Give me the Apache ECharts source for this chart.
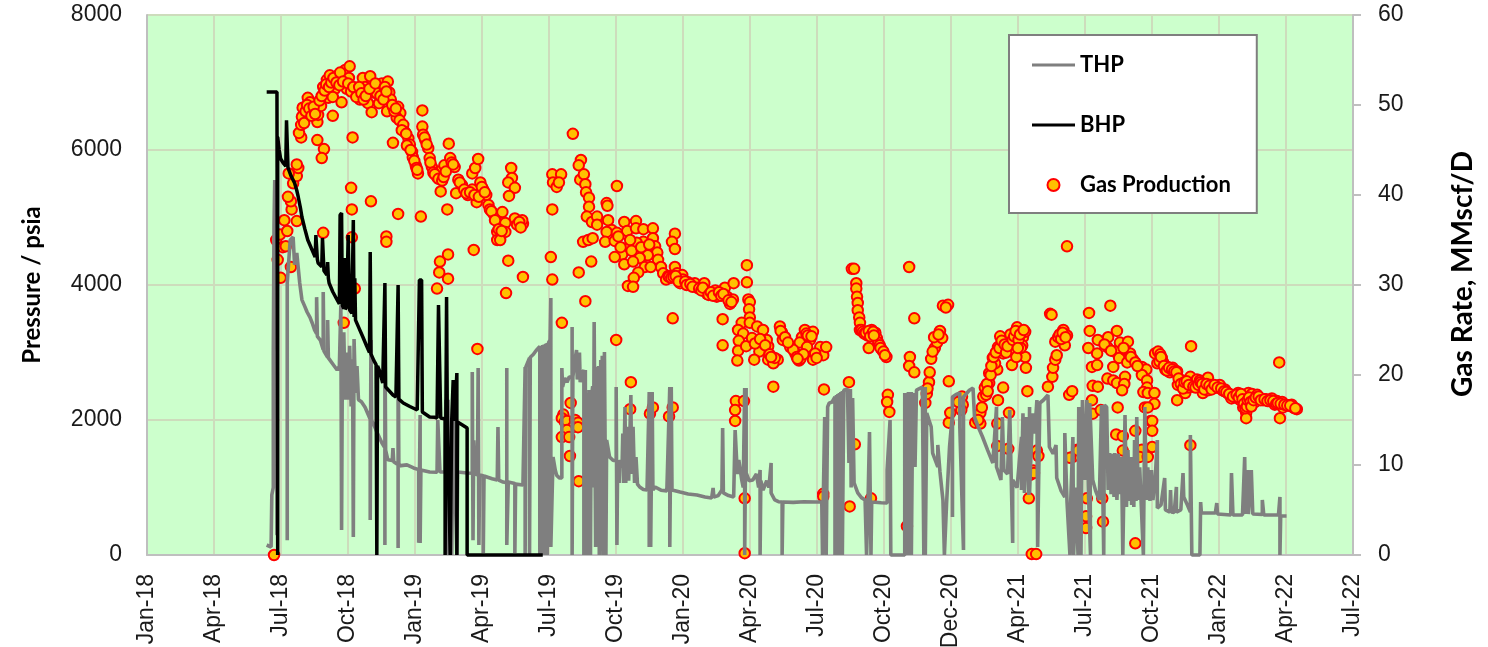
<!DOCTYPE html>
<html><head><meta charset="utf-8">
<style>html,body{margin:0;padding:0;background:#fff}#c{width:1488px;height:647px}</style>
<script src="https://cdn.jsdelivr.net/npm/echarts@6/dist/echarts.min.js"></script>
</head><body><div id="c"></div>
<script>
const tickLabels=["Jan-18","Apr-18","Jul-18","Oct-18","Jan-19","Apr-19","Jul-19","Oct-19","Jan-20","Apr-20","Jul-20","Oct-20","Dec-20","Apr-21","Jul-21","Oct-21","Jan-22","Apr-22","Jul-22"];
const quarterDays=91.25;
const thpEarly=[[163,148],[169,118],[170,890],[172,1000],[172,3000],[173,4890],[174,5555],[176,5555],[177,3000],[177,300],[178,300],[179,null],[191,220],[191,4030],[193,4030],[195,4665],[199,4710],[201,4300],[204,4475],[208,4030],[211,3780],[215,3680],[218,3600],[222,3520],[225,3437],[228,3340],[231,3280],[231,3820],[232,3240],[236,3185],[240,3040],[240,3895],[241,3020],[246,2930],[246,3480],[247,2920],[253,2830],[259,2740],[262,2800],[264,3700],[265,370],[266,2700],[268,3300],[270,2300],[272,3000],[274,2300],[276,3100],[278,2200],[280,2900],[281,265],[282,3200],[284,2400],[286,2800],[288,2300],[292,2270],[297,2190],[304,2010],[304,520],[305,3185],[306,1990],[308,1955],[314,1800],[320,1660],[324,1590],[324,148],[324,3330],[325,1555],[328,1410],[334,1400],[335,1585],[336,1380],[342,1335],[342,105],[342,3185],[343,1320],[354,1335],[363,1290],[370,1265],[370,180],[372,2075],[372,178],[373,1260],[385,1230],[395,1225],[396,2000],[398,2000],[399,1230],[403,1230],[406,1230],[407,2300],[408,0],[410,2300],[411,0],[412,1600],[414,1230],[415,0],[417,2000],[419,1260],[422,0],[423,1230],[436,1215],[443,1210],[443,2710],[444,220],[445,1700],[447,1200],[450,1190],[451,2770],[452,150],[453,1185],[458,1175],[458,30],[459,1170],[470,1130],[477,1110],[478,1896],[479,1110],[485,1080],[490,1070],[490,2770],[490,148],[492,1080],[501,1060],[501,30],[502,1050],[512,1037]];
const thpMid=[[515,2785],[515,0],[516,2785],[521,2920],[521,0],[522,2930],[526,2970],[530,3030],[535,3090],[535,0],[537,3100],[537,0],[539,3110],[539,0],[541,3120],[541,0],[543,3130],[543,0],[545,3140],[545,0],[547,3150],[549,3185],[550,3807],[550,118],[551,118],[553,1452],[556,1260],[558,1180],[562,1140],[565,1140],[565,2770],[566,2490],[569,2622],[572,2560],[575,2637],[579,2637],[579,3378],[579,0],[580,2640],[583,2900],[585,3037],[586,2600],[589,3000],[590,2560],[593,2700],[595,2740],[595,0],[597,2740],[597,0],[599,2400],[601,0],[602,2444],[604,0],[605,2300],[607,2500],[608,1000],[609,3452],[610,3452],[611,118],[613,2785],[614,400],[615,2800],[616,0],[618,2889],[619,200],[620,2950],[621,0],[623,3007],[625,3007],[625,0],[626,1704],[627,1704],[630,1452],[635,1400],[639,1407],[639,2489],[640,148],[641,1400],[643,1067],[644,1407],[647,1300],[648,1800],[649,1067],[651,2193],[652,1067],[655,1900],[656,1100],[659,2370],[660,1200],[662,1900],[664,1067],[666,1452],[668,1050],[671,1007],[676,970],[681,963],[684,2415],[684,118],[686,2415],[686,118],[688,2415],[689,963],[692,1007],[700,960],[708,950],[712,2489],[712,118],[714,2489],[715,963],[726,933],[737,905],[749,889],[760,860],[769,844],[771,993],[772,859],[778,880],[783,963],[784,1881],[785,919],[792,880],[799,859],[801,1852],[803,1852],[804,1200],[806,1407],[810,1111],[812,1000],[814,2474],[814,0],[816,2474],[816,1215],[820,1100],[825,1111],[830,1200],[833,1000],[835,1259],[835,0],[836,1100],[839,963],[844,1100],[847,1000],[850,1363],[850,919],[855,815],[860,790],[865,785],[865,0],[866,785],[880,780],[895,790],[910,785],[919,785],[920,0],[921,785],[923,2044],[925,0],[927,2193],[929,2250],[933,2267],[937,2341],[937,0],[939,2370],[939,0],[941,2385],[941,0],[943,2400],[943,0],[945,2415],[945,0],[947,2430],[947,0],[949,2440],[954,2459],[955,2459],[956,1363],[958,2459],[959,1000],[961,2326],[963,1067],[968,919],[973,850],[978,815],[980,0],[982,800],[984,1822],[986,0],[987,785],[1000,775],[1008,770],[1008,1259],[1012,2000],[1013,0],[1032,0],[1032,2400],[1033,0],[1035,2400],[1035,0],[1037,2415],[1037,0],[1039,2415],[1039,0],[1041,2415],[1041,0],[1043,2400],[1043,1304],[1045,2400],[1046,1304],[1048,2444],[1050,2460],[1056,2489],[1058,0],[1060,2489],[1060,0],[1062,2104],[1065,2000],[1068,1900],[1070,1896],[1070,1511],[1077,1304],[1077,1630],[1080,1230],[1084,815],[1086,0],[1089,770],[1093,1600],[1097,2100],[1097,563],[1097,2341],[1102,2380],[1107,2400],[1107,1896],[1112,74],[1112,2341],[1120,2440]];
const thpLate=[[1125,2474],[1127,2044],[1132,1900],[1138,1748],[1145,1550],[1152,1363],[1157,2193],[1157,1304],[1163,1111],[1165,2044],[1167,1259],[1172,1200],[1175,2148],[1179,178],[1179,1111],[1185,1000],[1191,1748],[1191,963],[1193,2100],[1195,919],[1198,2044],[1201,889],[1202,2193],[1202,919],[1206,2100],[1209,1800],[1212,2296],[1213,118],[1216,2252],[1221,2296],[1227,2370],[1229,1600],[1234,1500],[1238,1630],[1239,1141],[1245,950],[1250,859],[1250,1807],[1253,785],[1257,0],[1258,785],[1261,1748],[1262,0],[1265,1000],[1268,0],[1269,2193],[1272,0],[1274,2296],[1277,1111],[1280,2296],[1282,1000],[1285,0],[1284,2252],[1288,1111],[1292,950],[1297,815],[1300,2222],[1303,0],[1304,2222],[1307,2193],[1309,963],[1311,1511],[1313,900],[1315,1500],[1317,859],[1318,1511],[1321,815],[1323,1500],[1325,900],[1327,1452],[1328,815],[1329,0],[1332,2074],[1334,711],[1336,1556],[1338,800],[1340,1452],[1341,741],[1343,1400],[1344,711],[1345,1704],[1347,800],[1348,2044],[1350,815],[1352,1300],[1354,770],[1357,0],[1359,2193],[1361,815],[1363,1300],[1366,800],[1368,1259],[1370,815],[1373,1111],[1376,1704],[1376,696],[1381,741],[1386,1141],[1387,667],[1393,637],[1394,963],[1395,637],[1399,630],[1402,1007],[1402,637],[1408,667],[1411,1215],[1412,859],[1417,741],[1421,637],[1421,1778],[1423,0],[1434,0],[1435,785],[1436,622],[1455,622],[1457,770],[1458,607],[1476,593],[1477,1215],[1479,593],[1492,593],[1495,1452],[1496,607],[1499,1259],[1500,607],[1504,1259],[1506,607],[1519,600],[1519,815],[1521,593],[1541,593],[1543,859],[1543,0],[1544,578],[1552,578]];
const bhpValues=[[163,6860],[177,6860],[178,6860],[178,0],[178,6193],[180,6000],[182,5870],[186,5800],[189,5760],[190,6440],[191,6440],[192,5740],[196,5620],[201,5511],[204,5400],[206,5304],[209,5140],[211,5007],[215,4830],[219,4667],[224,4540],[229,4415],[230,4741],[231,4741],[232,4380],[233,4326],[238,4270],[239,4696],[240,4696],[241,4210],[245,4150],[246,4341],[247,4100],[248,4030],[253,3900],[259,3778],[262,3720],[263,5037],[265,5067],[266,3700],[268,3650],[269,4400],[270,3640],[272,3674],[274,4741],[276,3630],[279,3580],[281,4963],[282,3526],[283,4100],[284,3480],[288,3380],[294,3230],[299,3100],[303,3000],[304,4489],[305,2980],[309,2880],[312,2820],[313,0],[314,2800],[317,2720],[321,2548],[323,2520],[324,4030],[325,2489],[330,2430],[335,2370],[339,2340],[341,2320],[342,4000],[343,2310],[349,2252],[358,2200],[368,2148],[370,2130],[371,4074],[374,4074],[375,2119],[385,2044],[392,2040],[395,2030],[397,3704],[399,3700],[400,2030],[406,2015],[406,0],[407,2010],[408,3822],[409,2005],[411,2000],[413,0],[415,2000],[417,2593],[419,1985],[421,1980],[422,2696],[422,0],[423,1970],[429,1930],[436,1881],[436,0],[539,0]];
const gas2018=[[173,0],[178,32.8],[182,30.8],[176,35],[181,35.6],[185,34.2],[189,34.3],[191,36],[187,37.2],[196,32],[204,37.1],[197,38.4],[196,39.3],[192,39.8],[199,41.3],[204,42.1],[206,43],[204,43.4],[193,42.4],[210,46.4],[207,46.9],[210,47.8],[211,48.7],[212,49.7],[219,50.8],[222,50.3],[225,49.4],[232,48.1],[233,48.9],[237,49.9],[232,46.1],[241,45.1],[238,44.1],[240,35.8],[253,48.8],[240,52],[245,52.8],[249,53.3],[256,51.8],[247,50.8],[253,50.9],[260,53.3],[265,50.3],[272,51.8],[270,53.9],[276,54.3],[275,53],[280,46.4],[278,40.8],[279,38.4],[279,35.3],[283,29.6],[268,25.8],[283,51.7],[287,51.3],[290,50.6],[294,53],[297,52],[300,51.3],[301,50.2],[304,53.2],[306,49.2],[308,51.4],[305,39.3],[313,51.3],[316,50.2],[320,52.4],[328,52.6],[330,51.4],[327,49.3],[332,50.6],[335,49.8],[342,49.8],[345,49.1],[340,48.6],[326,35.4],[326,34.8],[335,45.8],[342,37.9],[214,48],[216,49.3],[218,50],[221,49.6],[224,48.8],[227,49.8],[229,49],[235,50.5],[238,51],[242,51.6],[244,52.3],[248,52],[251,52.5],[254,53],[258,52.5],[262,52.2],[263,53.6],[267,52.6],[274,52.4],[278,51.5],[281,52],[285,50.9],[289,52],[292,51.3],[295,50.6],[298,51],[303,51.8],[311,52.4],[318,51],[322,50.6],[324,52],[326,51.5],[334,50],[337,49.3],[339,49.6],[344,48.3]];
const gas2019a=[[349,47.8],[351,47],[356,46.3],[358,45.6],[361,44.8],[362,44.2],[366,43.3],[369,42.4],[373,37.6],[375,49.4],[375,47.6],[376,46.7],[379,46.1],[383,45.2],[385,44.1],[388,43.1],[395,42],[400,40.4],[399,42.6],[405,43.3],[411,45.7],[413,44.1],[419,43.1],[409,38.4],[410,33.4],[399,32.6],[398,31.4],[410,30.7],[395,29.6],[421,40.2],[424,41.7],[429,41.1],[437,40],[443,40.6],[449,39.2],[454,41.4],[458,40.6],[462,40],[465,38.9],[443,42.4],[447,43],[451,44],[445,33.9],[450,22.9],[471,38],[477,35.9],[477,35],[481,37],[496,43],[497,41.9],[492,41.4],[501,40.8],[493,39.9],[501,37.4],[512,36.8],[504,36.7],[511,37.2],[484,38.1],[488,36.9],[488,35.9],[481,35],[492,32.7],[512,30.9],[489,29.1],[347,47.2],[353,46.8],[354,45.5],[359,45],[364,43.8],[367,43],[368,42.8],[378,46.4],[381,45.6],[386,43.6],[390,42.5],[392,42.3],[397,41.8],[402,41.6],[404,42],[407,42.6],[415,43.6],[417,43.4],[426,41.4],[432,40.6],[435,40.2],[440,40.3],[446,40],[452,39.8],[456,40.9],[460,40.3],[467,38.4],[469,38.2],[474,37.2],[479,36.2],[483,36],[507,37],[509,36.4]];
const gas2019b=[[552,42.3],[553,41.4],[558,40.9],[564,42.3],[561,41.4],[552,38.4],[550,33.1],[552,30.6],[565,25.8],[580,46.8],[591,43.9],[588,43.3],[590,41.7],[595,42.3],[597,41.2],[598,40.3],[602,39.7],[602,38.7],[599,37.6],[606,37],[613,37.6],[613,36.7],[594,34.8],[601,35],[607,35.2],[605,32.6],[588,31.4],[597,28.2],[626,39.1],[627,38.8],[640,41],[628,37.2],[633,36.1],[626,35.9],[624,34.8],[640,35.8],[637,34.9],[650,37],[654,36],[666,37.1],[666,36.3],[676,36.2],[689,36.3],[689,35.2],[692,34.3],[695,33.6],[696,32.8],[700,32],[703,31.3],[707,30.6],[656,34.2],[647,33.4],[637,33.1],[650,32.3],[676,34.8],[667,34.7],[676,33.9],[682,33.3],[671,33],[662,32.6],[678,32],[686,32],[669,31.4],[663,30.8],[655,29.9],[662,29.8],[719,35.7],[715,34.8],[719,34],[719,32],[710,31],[722,31.3],[729,31.1],[730,30.6],[726,30.2],[737,30.3],[746,30.2],[749,29.7],[759,30.2],[760,29.4],[763,29],[774,29.4],[776,28.7],[787,29.7],[790,28.7],[794,27.9],[798,28.4],[799,30.2],[716,26.3],[639,23.9],[659,19.2],[577,16.9],[567,15.6],[565,15.2],[569,14.8],[572,14.9],[583,15],[587,14.7],[580,14.2],[587,14.2],[572,13.9],[565,13.1],[575,13.1],[576,11],[588,8.2],[612,14.8],[658,16.2],[685,15.7],[689,16.4],[711,15.4],[716,16.4],[711,30.9],[714,30.8],[717,30.9],[720,31],[724,30.4],[733,30.4],[735,30],[740,30.1],[743,29.8],[752,29.6],[755,29.4],[757,29.7],[765,28.9],[768,29.2],[771,28.8],[779,29.2],[782,28.8],[785,29],[792,28.3],[796,28.1],[642,35.4],[645,34.2],[658,35],[660,33.8],[673,34.2],[684,34.5]];
const gas2020=[[817,32.2],[817,30.3],[819,28.4],[821,28.1],[820,27.3],[821,26.4],[784,26.2],[784,23.3],[802,17.1],[813,17.1],[801,16.1],[801,14.9],[814,6.3],[814,0.2],[853,18.7],[922,18.4],[921,6.8],[921,6.5],[810,25.8],[805,25],[812,24.6],[806,23.8],[805,22.7],[804,21.6],[816,23.2],[824,24.1],[821,25.8],[831,25.4],[839,25],[834,22.6],[827,21.7],[846,23.2],[844,23.9],[846,21.7],[859,21.7],[853,21.3],[862,25.4],[865,24.7],[866,23.9],[876,23.1],[883,22.4],[888,21.6],[896,25],[892,24.2],[889,23.6],[907,24.8],[903,23.9],[907,21.7],[899,23.1],[917,23.1],[921,22.2],[925,23.1],[960,31.8],[963,31.8],[966,30.2],[966,29.6],[967,28.7],[968,28],[968,27.2],[970,26.4],[971,25.8],[971,25],[981,24.4],[987,25],[992,24.7],[994,24.1],[996,23.6],[1001,22.8],[1007,22],[983,23],[956,19.2],[964,12.3],[957,5.4],[986,6.3],[1009,17.8],[1008,17],[1011,15.9],[1038,32],[1045,26.3],[1039,22],[1038,21],[1045,20.3],[1035,3.2],[1060,16.9],[1062,17.9],[1065,19.2],[1066,20.3],[1068,21.8],[1073,23],[1076,23.6],[1080,24.9],[1072,24.2],[1083,24.1],[1084,27.7],[1091,27.8],[1092,19.3],[1092,14.7],[1094,15.8],[973,25],[975,24.8],[977,24.6],[979,24.7],[983,24.9],[985,24.3],[989,24.8],[990,24.4],[998,23.3],[999,23],[1003,22.6],[1005,22.2],[880,22.8],[885,22],[890,21.8],[894,22.3],[898,24.6],[900,24.4],[905,24.3],[910,22.4],[912,21.9],[886,21.8],[828,23.5],[835,24],[842,23.3],[848,22.3],[855,21.9],[850,22],[863,24.9],[869,24.2],[873,23.6],[1070,22.6],[1078,24.5],[1063,18.5],[1088,27.5]];
const gas2021a=[[1110,17.6],[1111,16.7],[1109,16.1],[1105,17],[1128,14.7],[1135,14.6],[1135,15.8],[1137,16.4],[1139,17.6],[1141,18.6],[1147,19.1],[1147,20.2],[1152,21.9],[1158,20.6],[1155,21.3],[1162,24.3],[1159,23.1],[1166,22.4],[1178,21.1],[1175,23.7],[1185,25.3],[1182,22.8],[1193,24.2],[1192,23.3],[1196,22],[1197,20.8],[1196,24.8],[1166,18.6],[1159,17.2],[1174,15.8],[1158,14.6],[1158,12.1],[1173,11.8],[1199,18.2],[1212,11.6],[1214,11],[1199,9.3],[1207,9.4],[1203,8.9],[1208,9.1],[1201,6.3],[1205,0.1],[1211,0.1],[1227,18.7],[1233,19.8],[1234,20.8],[1237,21.7],[1239,22.2],[1250,23.3],[1237,23.7],[1241,24.2],[1248,25],[1253,24.4],[1230,26.8],[1253,34.3],[1256,17.8],[1260,18.2],[1261,10.9],[1267,11.7],[1257,10.8],[1268,11.6],[1278,11.6],[1144,19],[1149,20],[1150,21],[1153,22],[1156,22.5],[1161,23],[1164,23.8],[1168,23.4],[1170,22.5],[1172,23.2],[1176,24.5],[1179,23.9],[1181,24.3],[1183,24.9],[1187,23.9],[1189,24.5],[1190,23],[1194,25],[1184,22],[1186,23],[1243,24.5],[1245,24],[1247,24.7],[1251,24.2],[1132,15],[1143,17.8],[1145,18.2],[1232,26.7]];
const gas2021b=[[1283,26.9],[1312,27.7],[1284,24.9],[1282,23],[1294,22.4],[1287,20.9],[1294,21.1],[1288,18.8],[1295,18.7],[1287,17.2],[1288,15.7],[1299,16.1],[1280,6.3],[1301,6.3],[1279,4.3],[1279,3],[1302,3.7],[1295,23.9],[1309,24.2],[1308,23.1],[1321,24.9],[1325,23.6],[1318,22.6],[1324,21.9],[1336,23.7],[1332,22.8],[1339,22.4],[1343,21.7],[1335,21.4],[1316,20.9],[1308,19.6],[1316,19.4],[1321,19.1],[1332,19.8],[1331,19],[1328,18.3],[1322,16.4],[1320,13.4],[1329,13.2],[1329,11.6],[1346,13.8],[1346,1.3],[1355,20.9],[1361,20.6],[1355,20],[1362,19.4],[1362,18.6],[1357,18.1],[1363,18],[1372,18],[1372,16.8],[1359,16.4],[1363,16.4],[1367,14.9],[1369,14.9],[1369,13.8],[1369,12],[1355,11.7],[1352,10.9],[1363,10.9],[1304,23.4],[1313,22.7],[1330,23],[1340,22],[1346,21.4],[1349,21]];
const gasTail=[[1373,22.4],[1376,21.3],[1377,22.6],[1380,22.3],[1384,21.4],[1382,21.9],[1387,20.6],[1390,20.9],[1393,20.3],[1397,20.8],[1400,20.5],[1403,20.4],[1404,18.9],[1407,19.5],[1410,19.2],[1414,18],[1403,17.2],[1421,19.8],[1423,19.1],[1414,18.9],[1418,18.6],[1422,23.2],[1421,12.2],[1427,19],[1430,19.5],[1434,19.4],[1438,18],[1436,18.8],[1441,19],[1445,19.7],[1445,18.3],[1449,18.9],[1452,18.7],[1456,18.6],[1461,18.9],[1465,18.3],[1468,18.4],[1472,18],[1475,17.7],[1477,17.4],[1482,17.5],[1486,18],[1489,17.2],[1491,17.6],[1493,16.4],[1495,16.9],[1497,15.8],[1497,15.2],[1500,18],[1502,16.7],[1505,17.9],[1509,17],[1512,17.8],[1515,17.4],[1520,17.2],[1524,17.3],[1528,17.1],[1532,17.4],[1536,16.7],[1539,17.1],[1542,21.4],[1543,15.2],[1546,17],[1547,16.4],[1551,16.7],[1555,16.6],[1559,16.7],[1561,16.4],[1563,16.3],[1566,16.2],[1379,21.5],[1381,22],[1385,21],[1389,20.5],[1392,20.8],[1396,20.6],[1399,20.4],[1402,20.3],[1405,19.6],[1408,19],[1411,18.5],[1413,19.2],[1416,19.3],[1419,18.9],[1425,18.7],[1428,18.6],[1432,18.9],[1435,19.2],[1437,19],[1440,18.4],[1443,19],[1447,18.8],[1450,18.4],[1454,18.9],[1458,18.6],[1463,18.5],[1467,18.2],[1470,18.1],[1474,17.9],[1479,17.6],[1484,17.8],[1487,17.5],[1490,17.9],[1492,17.3],[1494,16.8],[1496,16.3],[1498,16.5],[1499,17.2],[1501,17.5],[1503,17],[1504,16.5],[1507,17.2],[1510,17.5],[1514,17.6],[1517,17.2],[1522,17.3],[1526,17.1],[1530,17.2],[1534,17.1],[1538,16.8],[1540,16.9],[1544,16.8],[1549,16.7],[1553,16.6],[1557,16.6],[1564,16.3]];
const thpValues=thpEarly.concat(thpMid,thpLate);
const gasValues=gas2018.concat(gas2019a,gas2019b,gas2020,gas2021a,gas2021b,gasTail);

const chart=echarts.init(document.getElementById('c'),null,{renderer:'canvas'});
const gridColor='#cddcbc', axisColor='#bfbfbf', tickFont='"Liberation Sans"', titleFont='Lato';
const lineIcon='path://M0,0h0.01v0.01h-0.01z M0,4.5h45v3h-45z M0,12h0.01v0.01h-0.01z';
const yBase={type:'value',axisLine:{show:true,lineStyle:{color:axisColor,width:2}},
  axisTick:{show:true,length:8,lineStyle:{color:axisColor,width:2}},
  axisLabel:{fontFamily:tickFont,fontSize:23,color:'#1a1a1a',margin:25,padding:[8,0,0,0],formatter:v=>String(v)},
  nameLocation:'middle',nameRotate:90,
  nameTextStyle:{fontFamily:titleFont,fontSize:24,fontWeight:'bold',color:'#000'}};
chart.setOption({
  animation:false,
  backgroundColor:'#fff',
  grid:{left:147,right:135,top:15,bottom:92,show:true,backgroundColor:'#CCFFCC',borderWidth:0,outerBoundsMode:'none',containLabel:false},
  legend:{show:true,left:1009,top:35,orient:'vertical',itemWidth:43,itemHeight:12,itemGap:38,
    padding:[19,26,17,23],backgroundColor:'#fff',borderColor:'#7f7f7f',borderWidth:2,borderRadius:0,
    textStyle:{fontFamily:titleFont,fontSize:22,fontWeight:'bold',color:'#000'},
    data:[{name:'THP',icon:lineIcon},{name:'BHP',icon:lineIcon},{name:'Gas Production'}]},
  xAxis:{type:'value',min:0,max:quarterDays*18,interval:quarterDays,
    axisLine:{show:true,onZero:false,lineStyle:{color:axisColor,width:2}},
    axisTick:{show:false},
    splitLine:{show:true,lineStyle:{color:gridColor,width:2}},
    axisLabel:{rotate:90,fontFamily:tickFont,fontSize:23,color:'#1a1a1a',margin:19,
      formatter:v=>tickLabels[Math.round(v/quarterDays)]||''}},
  yAxis:[
    Object.assign({},yBase,{position:'left',min:0,max:8000,interval:2000,name:'Pressure / psia',nameGap:103,
      axisTick:{show:false},
      splitLine:{show:true,lineStyle:{color:gridColor,width:2}}}),
    Object.assign({},yBase,{position:'right',min:0,max:60,interval:10,splitLine:{show:false}})
  ],
  graphic:[{type:'text',x:1463,y:274,rotation:Math.PI/2,silent:true,
    style:{text:'Gas Rate, MMscf/D',fontFamily:titleFont,fontSize:28,fontWeight:'bold',fill:'#000',align:'center',verticalAlign:'middle'}}],
  series:[
    {name:'THP',type:'line',yAxisIndex:0,data:thpValues,showSymbol:false,symbol:'none',clip:false,connectNulls:false,
      lineStyle:{color:'#7f7f7f',width:3.6,join:'bevel'},itemStyle:{color:'#7f7f7f'},silent:true},
    {name:'BHP',type:'line',yAxisIndex:0,data:bhpValues,showSymbol:false,symbol:'none',clip:false,
      lineStyle:{color:'#000',width:3.5,join:'bevel'},itemStyle:{color:'#000'},silent:true},
    {name:'Gas Production',type:'scatter',yAxisIndex:1,data:gasValues,symbol:'circle',symbolSize:10.5,clip:false,
      itemStyle:{color:'#ffc000',borderColor:'#ff0000',borderWidth:2,opacity:1},silent:true}
  ]
});
</script></body></html>
